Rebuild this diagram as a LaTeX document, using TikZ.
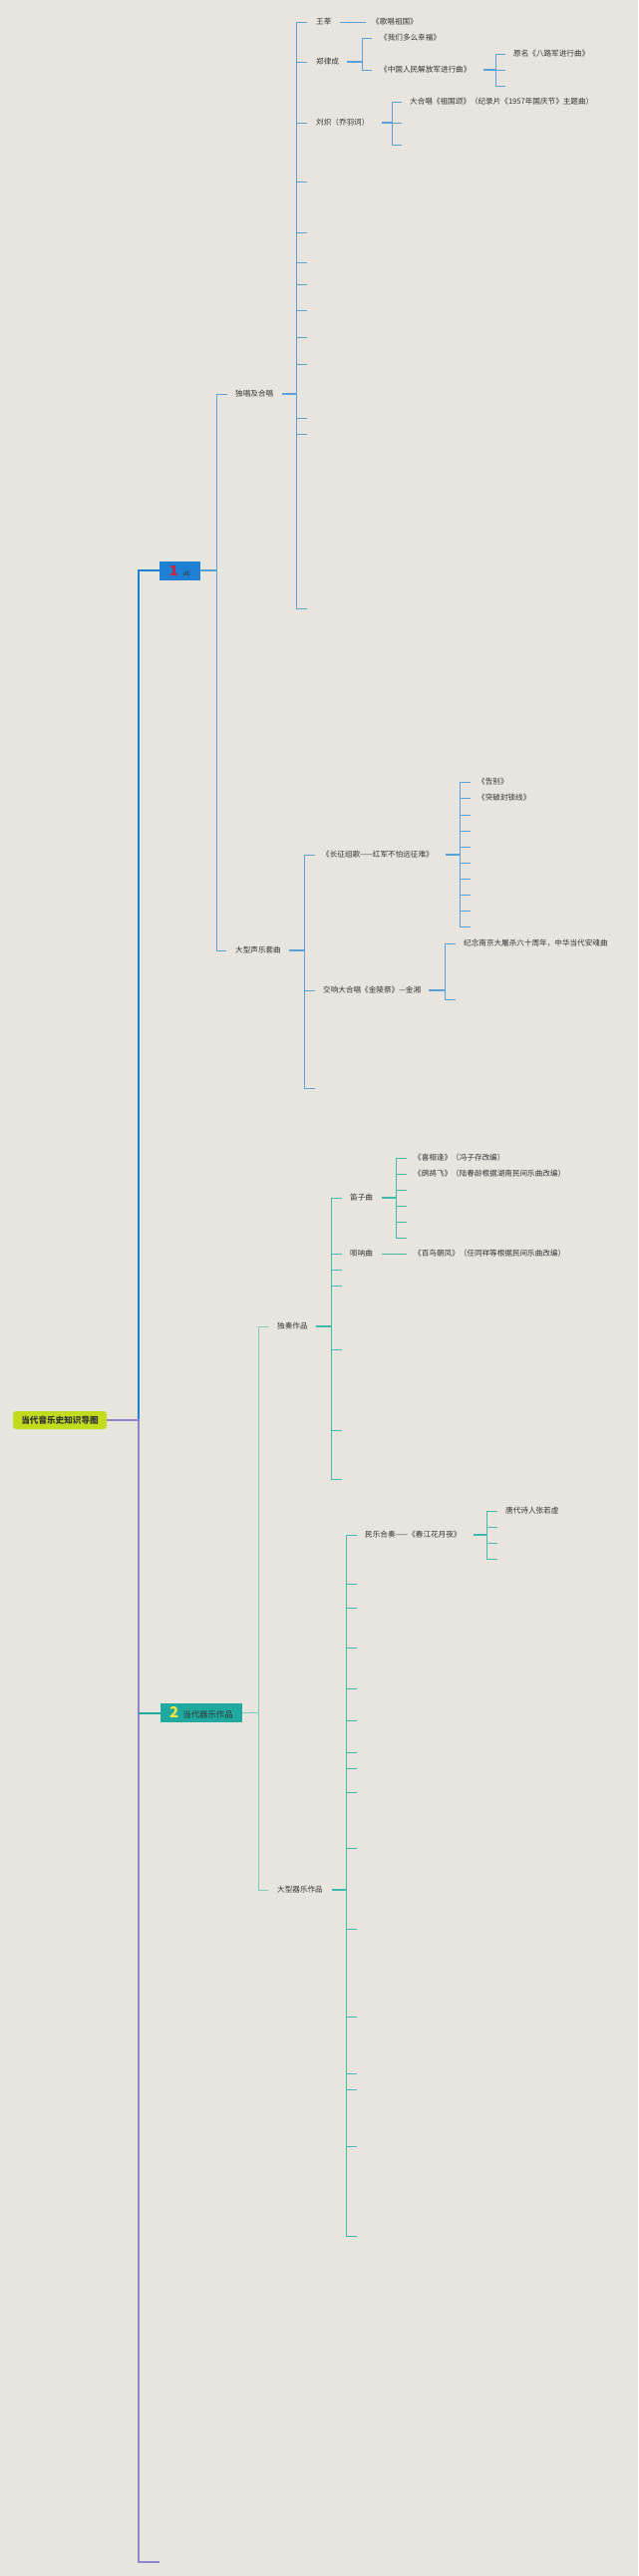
\documentclass[tikz,border=0pt]{standalone}
\usepackage{fontspec}
\setmainfont{Noto Sans CJK SC}

\definecolor{bg}{HTML}{E8E5DF}
\definecolor{blueA}{HTML}{1E7FD3}
\definecolor{blueB}{HTML}{5B9FDB}
\definecolor{tealA}{HTML}{1FA99F}
\definecolor{tealB}{HTML}{7FCBC0}
\definecolor{tealC}{HTML}{45B8AC}
\definecolor{purp}{HTML}{8E85CB}
\definecolor{rootg}{HTML}{C2DB1C}
\definecolor{numred}{HTML}{D0203A}
\definecolor{numyel}{HTML}{F2E640}
\definecolor{ink}{HTML}{333333}

\tikzset{
  txt/.style={anchor=west, inner sep=0pt, text=ink, font=\fontsize{7.6}{9}\selectfont},
  secbox/.style={inner sep=0pt, minimum height=19, text=ink},
  trunk/.style={line width=2pt},
  lone/.style={draw=blueB, line width=1.1pt},
  ltwo/.style={draw=tealC, line width=1.1pt},
  tick/.style={line width=0.9pt}
}

\begin{document}
\begin{tikzpicture}[x=1pt,y=-1pt]

% Background
\fill[bg] (0,0) rectangle (640,2583);
\useasboundingbox (0,0) rectangle (640,2583);

% Root and section boxes
\node[secbox, fill=rootg, rounded corners=3pt, minimum width=94, minimum height=18,
  font=\bfseries\fontsize{8.6}{10}\selectfont] (root) at (60,1424) {当代音乐史知识导图};
\node[secbox, fill=blueA, minimum width=41] (sec1) at (180.5,572)
  {\textcolor{numred}{\fontsize{14}{14}\selectfont\bfseries 1}\hspace{5pt}{\fontsize{6}{7}\selectfont dE}};
\node[secbox, fill=tealA, minimum width=82] (sec2) at (202,1717.5)
  {\textcolor{numyel}{\fontsize{15}{15}\selectfont\bfseries 2}\hspace{4pt}{\fontsize{8.4}{10}\selectfont 当代器乐作品}};

% Trunk
\draw[trunk, blueA] (sec1.west) -| (139,1424);
\draw[trunk, purp] (root.east) -- (139,1424) -- (139,2569) -- (160,2569);
\draw[trunk, tealA] (139,1717.5) -- (sec2.west);

% Section 1
\draw[lone] (sec1.east) -- (217,572);
\draw[lone, tick] (228,395) -| (217,953) -- (227,953);
\node[txt] (solo) at (236,395) {独唱及合唱};
\node[txt] (suite) at (236,953) {大型声乐套曲};

% solo and chorus songs
\draw[lone] ([xshift=9]solo.east) -- (297,395);
\draw[lone, tick] (308,22) -| (297,610) -- (308,610);
\draw[lone, tick] (297,62) -- ++(11,0) (297,123) -- ++(11,0) (297,182) -- ++(11,0)
  (297,233) -- ++(11,0) (297,263) -- ++(11,0) (297,285) -- ++(11,0) (297,311) -- ++(11,0)
  (297,338) -- ++(11,0) (297,365) -- ++(11,0) (297,419) -- ++(11,0) (297,435) -- ++(11,0);
\node[txt] (wangshen) at (317,22) {王莘};
\node[txt] (zhenglc) at (317,62) {郑律成};
\node[txt] (liuchi) at (317,123) {刘炽（乔羽词）};

\node[txt] (gechang) at (373,22) {《歌唱祖国》};
\draw[lone, tick] ([xshift=8]wangshen.east) -- (367,22);

\draw[lone] ([xshift=8]zhenglc.east) -- (363,62);
\draw[lone, tick] (373,38) -| (363,70) -- (373,70);
\node[txt] (xingfu) at (381,38) {《我们多么幸福》};
\node[txt] (jiefang) at (381,70) {《中国人民解放军进行曲》};
\draw[lone] ([xshift=12]jiefang.east) -- (497,70);
\draw[lone, tick] (507,54) -| (497,86) -- (507,86) (497,70) -- (507,70);
\node[txt] (balu) at (515,54) {原名《八路军进行曲》};

\draw[lone] ([xshift=12]liuchi.east) -- (393,123);
\draw[lone, tick] (403,102) -| (393,145) -- (403,145) (393,123) -- (403,123);
\node[txt] (zuguo) at (411,102) {大合唱《祖国颂》（纪录片《1957年国庆节》主题曲）};

% large vocal suites
\draw[lone] ([xshift=8]suite.east) -- (305,953);
\draw[lone, tick] (316,857) -| (305,1091) -- (316,1091) (305,993) -- (316,993);
\node[txt] (changzheng) at (323,857) {《长征组歌——红军不怕远征难》};
\node[txt] (jinling) at (324,993) {交响大合唱《金陵祭》—金湘};

\draw[lone] ([xshift=12]changzheng.east) -- (461,857);
\draw[lone, tick] (472,784) -| (461,929) -- (472,929);
\draw[lone, tick] (461,800) -- ++(11,0) (461,817) -- ++(11,0) (461,833) -- ++(11,0)
  (461,849) -- ++(11,0) (461,865) -- ++(11,0) (461,881) -- ++(11,0) (461,897) -- ++(11,0)
  (461,913) -- ++(11,0);
\node[txt] (gaobie) at (479,784) {《告别》};
\node[txt] (tupo) at (479,800) {《突破封锁线》};

\draw[lone] ([xshift=8]jinling.east) -- (446,993);
\draw[lone, tick] (457,946) -| (446,1002) -- (457,1002);
\node[txt] (anhun) at (465,946) {纪念南京大屠杀六十周年，中华当代安魂曲};

% Section 2
\draw[ltwo, draw=tealB] (sec2.east) -- (259,1717.5);
\draw[ltwo, draw=tealB, line width=1pt] (269,1330) -| (259,1895) -- (269,1895);
\node[txt] (duzou) at (278,1330) {独奏作品};
\node[txt] (daxing) at (278,1895) {大型器乐作品};

% solo works
\draw[ltwo] ([xshift=8]duzou.east) -- (332,1330);
\draw[ltwo, tick] (343,1201) -| (332,1483) -- (343,1483);
\draw[ltwo, tick] (332,1257) -- ++(11,0) (332,1273) -- ++(11,0) (332,1289) -- ++(11,0)
  (332,1353) -- ++(11,0) (332,1434) -- ++(11,0);
\node[txt] (dizi) at (351,1201) {笛子曲};
\node[txt] (suona) at (351,1257) {唢呐曲};

\draw[ltwo] ([xshift=9]dizi.east) -- (397,1201);
\draw[ltwo, tick] (408,1161) -| (397,1241) -- (408,1241);
\draw[ltwo, tick] (397,1177) -- ++(11,0) (397,1193) -- ++(11,0) (397,1209) -- ++(11,0)
  (397,1225) -- ++(11,0);
\node[txt] (xixf) at (415,1161) {《喜相逢》（冯子存改编）};
\node[txt] (zhegu) at (415,1177) {《鹧鸪飞》（陆春龄根据湖南民间乐曲改编）};

\node[txt] (bainiao) at (415,1257) {《百鸟朝凤》（任同祥等根据民间乐曲改编）};
\draw[ltwo, tick] ([xshift=9]suona.east) -- (408,1257);

% large instrumental works
\draw[ltwo] ([xshift=9]daxing.east) -- (347,1895);
\draw[ltwo, tick] (358,1539) -| (347,2242) -- (358,2242);
\draw[ltwo, tick] (347,1588) -- ++(11,0) (347,1612) -- ++(11,0) (347,1652) -- ++(11,0)
  (347,1693) -- ++(11,0) (347,1725) -- ++(11,0) (347,1757) -- ++(11,0) (347,1773) -- ++(11,0)
  (347,1797) -- ++(11,0) (347,1853) -- ++(11,0) (347,1934) -- ++(11,0) (347,2022) -- ++(11,0)
  (347,2079) -- ++(11,0) (347,2095) -- ++(11,0) (347,2152) -- ++(11,0);
\node[txt] (chunjiang) at (366,1539) {民乐合奏——《春江花月夜》};

\draw[ltwo] ([xshift=12]chunjiang.east) -- (488,1539);
\draw[ltwo, tick] (499,1515) -| (488,1563) -- (499,1563) (488,1531) -- (499,1531)
  (488,1547) -- (499,1547);
\node[txt] (zhangrx) at (507,1515) {唐代诗人张若虚};

\end{tikzpicture}
\end{document}
